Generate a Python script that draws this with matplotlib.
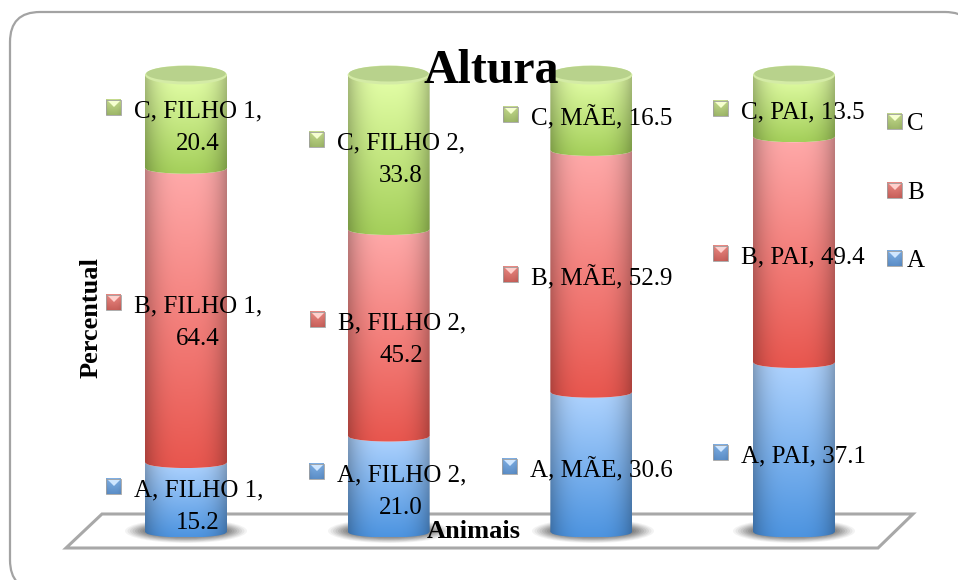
import numpy as np
import matplotlib
matplotlib.use('Agg')
import matplotlib.pyplot as plt
from matplotlib.patches import FancyBboxPatch, Polygon, Ellipse, PathPatch
from matplotlib.path import Path

W, H = 958, 580

categories = ['FILHO 1', 'FILHO 2', 'MÃE', 'PAI']
series_names = ['A', 'B', 'C']
values_a = [15.2, 21.0, 30.6, 37.1]
values_b = [64.4, 45.2, 52.9, 49.4]
values_c = [20.4, 33.8, 16.5, 13.5]

# top and bottom colours of each series
colors = {'A': ('#b0d4ff', '#4d94e0'),
          'B': ('#ffaaaa', '#e8564e'),
          'C': ('#e4ffa8', '#a4cf5a')}
marker_colors = {'A': ('#cfe6ff', '#7fb0e6', '#5d8fc8'),
                 'B': ('#ffd0cc', '#ec8a84', '#c9615b'),
                 'C': ('#f6ffd0', '#c6dc8e', '#9fb86a')}

# marker centre in pixels, centre x of the second text line
label_layout = {
    ('A', 0): (114, 486, 198), ('A', 1): (317, 471, 401),
    ('A', 2): (510, 466, 0), ('A', 3): (721, 452, 0),
    ('B', 0): (114, 302, 198), ('B', 1): (318, 319, 401),
    ('B', 2): (511, 274, 0), ('B', 3): (721, 253, 0),
    ('C', 0): (114, 107, 198), ('C', 1): (317, 139, 401),
    ('C', 2): (511, 114, 0), ('C', 3): (721, 108, 0),
}
legend_y = {'C': 121, 'B': 190, 'A': 258}

SERIF = 'Liberation Serif'
LABEL_SIZE = 18


def hex_rgb(c):
    return np.array(matplotlib.colors.to_rgb(c))


def arc(x0, x1, y, dip, n=40, reverse=False):
    # lower half of an ellipse, in data coords
    xs = np.linspace(x0, x1, n)
    t = (xs - (x0 + x1) / 2) / ((x1 - x0) / 2)
    ys = y - dip * np.sqrt(np.clip(1 - t ** 2, 0, 1))
    pts = np.column_stack([xs, ys])
    return pts[::-1] if reverse else pts


def shade(top, bottom, nx=120, ny=100, strength=0.26):
    # horizontal darkening towards the edges plus a vertical gradient
    tt = np.linspace(0, 1, ny)[:, None, None]
    rgb = hex_rgb(top)[None, None, :] * (1 - tt) + hex_rgb(bottom)[None, None, :] * tt
    u = np.linspace(-1, 1, nx)[None, :, None]
    edge = 1 - strength * np.abs(u) ** 3
    return np.clip(rgb * edge, 0, 1)


def glossy_marker(ax, x, y, name):
    light, mid, dark = marker_colors[name]
    s = 7.5
    img = shade(mid, dark, nx=8, ny=14, strength=0.05)
    # image a touch larger than the outline, so no white line is left at the edge
    ax.imshow(img, extent=(x - s, x + s, y + s + 1, y - s), aspect='auto', zorder=6,
              interpolation='bilinear')
    ax.add_patch(Polygon([(x - s + 1, y - s + 1), (x + s - 1, y - s + 1), (x, y)],
                         facecolor=light, edgecolor='none', zorder=7))
    ax.add_patch(Polygon([(x - s, y - s), (x + s, y - s), (x + s, y + s), (x - s, y + s)],
                         fill=False, edgecolor='#a0a0a0', lw=0.6, zorder=8))


fig = plt.figure(figsize=(W / 100, H / 100), dpi=100)

# background layer in pixel coords: frame, floor, shadows
bg = fig.add_axes([0, 0, 1, 1], zorder=0)
bg.set_xlim(0, W)
bg.set_ylim(H, 0)
bg.axis('off')
bg.add_patch(FancyBboxPatch((40, 42), 905, 518, boxstyle='round,pad=30,rounding_size=30',
                            facecolor='white', edgecolor='#a3a3a3', lw=1.6, clip_on=True))
bg.add_patch(Polygon([(66, 548), (102, 514), (913, 514), (878, 548)], closed=True,
                     facecolor='white', edgecolor='#a8a8a8', lw=2.2, joinstyle='miter'))
for cx in [186, 389, 593, 794]:
    for k in range(10):
        bg.add_patch(Ellipse((cx, 531), 122 - k * 5, 24 - k * 1.5, facecolor='#606060',
                             edgecolor='none', alpha=0.07 + k * 0.02))

# the bars, in data coords; the axes runs a bit past 0 and 100 for the round ends
pad = 6
ax_bottom_px = 532 + pad * 4.57
ax_height_px = (100 + 2 * pad) * 4.57
ax = fig.add_axes([0, (H - ax_bottom_px) / H, 1, ax_height_px / H], zorder=1)
ax.patch.set_alpha(0)
ax.axis('off')
x_step = (794 - 186) / 3
half = 41 / x_step
dip = 5.5 * 100 / 457
cap = 9.5 * 100 / 457

series_values = {'A': values_a, 'B': values_b, 'C': values_c}
for i in range(len(categories)):
    base = 0
    for name in series_names:
        v = series_values[name][i]
        x0, x1 = i - half, i + half
        lower = arc(x0, x1, base, dip)
        # the top segment runs flat to 100, the cap ellipse lies over it
        upper = arc(x0, x1, base + v, dip if name != 'C' else 0, reverse=True)
        verts = np.vstack([lower, upper, lower[:1]])
        codes = [Path.MOVETO] + [Path.LINETO] * (len(verts) - 2) + [Path.CLOSEPOLY]
        clip = PathPatch(Path(verts, codes), transform=ax.transData, facecolor='none',
                         edgecolor='none')
        ax.add_patch(clip)
        top, bottom = colors[name]
        im = ax.imshow(shade(top, bottom), extent=(x0, x1, base - dip, base + v),
                       aspect='auto', interpolation='bilinear', zorder=2 + base / 100)
        im.set_clip_path(clip)
        base += v
    # top cap
    ax.add_patch(Ellipse((i, 100), 2 * half, 2 * cap, facecolor='#d4ebA6', edgecolor='none', zorder=4))
    ax.add_patch(Ellipse((i, 100 + cap * 0.14), 2 * half * 0.97, 2 * cap * 0.82, facecolor='#b8d28c',
                         edgecolor='none', zorder=4.1))
ax.set_xlim(-186 / x_step, (W - 186) / x_step)
ax.set_ylim(-pad, 100 + pad)

# foreground layer in pixel coords: texts and markers
fg = fig.add_axes([0, 0, 1, 1], zorder=2)
fg.patch.set_alpha(0)
fg.axis('off')

for (name, i), (mx, my, cx) in label_layout.items():
    v = series_values[name][i]
    glossy_marker(fg, mx, my, name)
    if categories[i].startswith('FILHO'):
        fg.text(mx + 20, my + 4, f'{name}, {categories[i]},', family=SERIF, fontsize=LABEL_SIZE,
                va='center', ha='left', zorder=9)
        fg.text(cx, my + 37, f'{v:.1f}', family=SERIF, fontsize=LABEL_SIZE, va='center', ha='center', zorder=9)
    else:
        fg.text(mx + 20, my + 4, f'{name}, {categories[i]}, {v:.1f}', family=SERIF, fontsize=LABEL_SIZE,
                va='center', ha='left', zorder=9)

for name in series_names:
    glossy_marker(fg, 895, legend_y[name], name)
    fg.text(907, legend_y[name] + 3, name, family=SERIF, fontsize=LABEL_SIZE, va='center', ha='left', zorder=9)

fg.text(491, 71, 'Altura', family=SERIF, fontsize=34.5, fontweight='bold', va='center', ha='center', zorder=9)
fg.text(91, 318, 'Percentual', family=SERIF, fontsize=19, fontweight='bold', rotation=90,
        va='center', ha='center', zorder=9)
fg.text(474, 532, 'Animais', family=SERIF, fontsize=19, fontweight='bold', va='center', ha='center', zorder=9)
fg.set_xlim(0, W)
fg.set_ylim(H, 0)

fig.savefig('out.png', dpi=100)
